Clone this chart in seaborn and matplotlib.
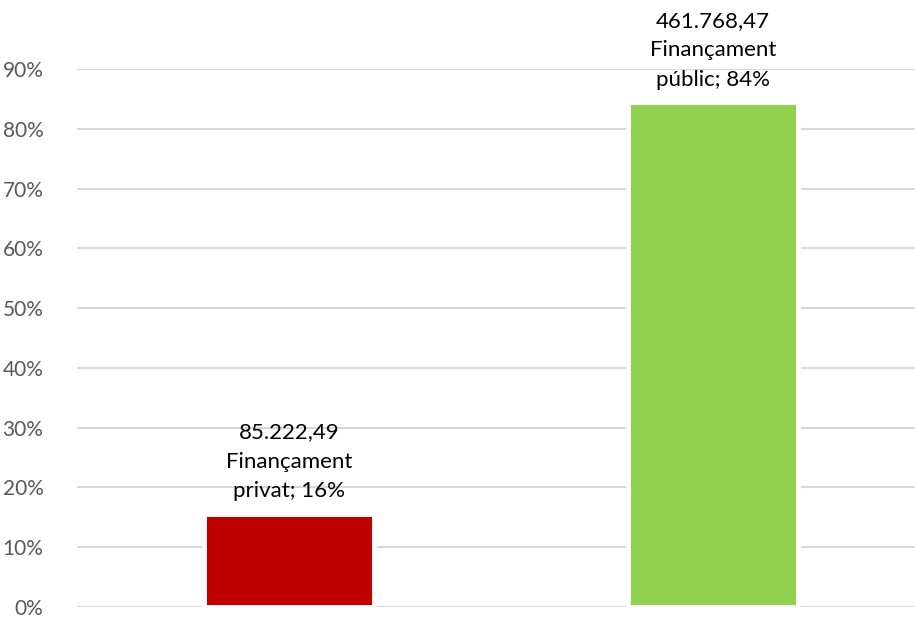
import numpy as np
import pandas as pd
import matplotlib
matplotlib.use("Agg")
import matplotlib.pyplot as plt
import seaborn as sns
from matplotlib.ticker import PercentFormatter

# data
categories = ["Finançament privat", "Finançament públic"]
label_names = ["Finançament\nprivat", "Finançament\npúblic"]
amounts = [85222.49, 461768.47]
bar_colors = ["#C00000", "#92D050"]
y_ticks = [0, 0.1, 0.2, 0.3, 0.4, 0.5, 0.6, 0.7, 0.8, 0.9]

total = sum(amounts)
shares = [a / total for a in amounts]
df = pd.DataFrame({"categoria": categories, "import": amounts, "share": shares})


def fmt_amount(v):
    # 85222.49 -> 85.222,49
    s = f"{v:,.2f}"
    return s.replace(",", "X").replace(".", ",").replace("X", ".")


sns.set_style("white")
plt.rcParams["font.family"] = ["Lato", "DejaVu Sans"]

fig = plt.figure(figsize=(9.15, 6.21), dpi=100)
ax = fig.add_axes([0.084, 0.0225, 0.927, 0.8665])

sns.barplot(data=df, x="categoria", y="share", hue="categoria",
            palette=bar_colors, saturation=1, width=0.4, legend=False,
            edgecolor="white", linewidth=3.5, ax=ax, zorder=3)

ax.set_xlim(-0.5, 1.5)
ax.set_ylim(0, 0.9)
ax.set_yticks(y_ticks)
ax.yaxis.set_major_formatter(PercentFormatter(1.0, decimals=0))
ax.grid(axis="y", color="#D9D9D9", linewidth=1.5, zorder=0)
ax.set_axisbelow(True)
for sp in ax.spines.values():
    sp.set_visible(False)
ax.tick_params(axis="y", length=0, labelsize=15, labelcolor="#595959", pad=24)
ax.tick_params(axis="x", length=0)
ax.set_xticklabels([])
ax.set_xlabel("")
ax.set_ylabel("")

for i, (amt, nm, sh) in enumerate(zip(amounts, label_names, shares)):
    txt = f"{fmt_amount(amt)}\n{nm}; {sh * 100:.0f}%"
    ax.annotate(txt, xy=(i, sh), xytext=(0, 9), textcoords="offset points",
                ha="center", va="bottom", fontsize=16, color="#000000",
                linespacing=1.6, annotation_clip=False)

fig.savefig("out.png", dpi=100)
plt.close(fig)
